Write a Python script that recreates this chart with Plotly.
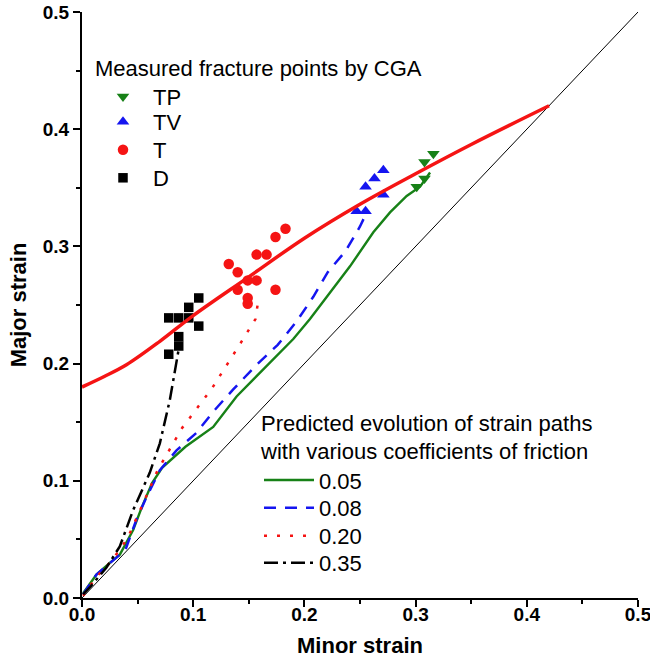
import plotly.graph_objects as go

# ---- data ----
flc_x = [0.0, 0.02, 0.04, 0.07, 0.10, 0.15, 0.20, 0.25, 0.30, 0.35, 0.42]
flc_y = [0.18, 0.189, 0.199, 0.219, 0.241, 0.274, 0.307, 0.336, 0.362, 0.387, 0.42]

diag_x = [0.0, 0.5]
diag_y = [0.0, 0.5]

tp_x = [0.316, 0.308, 0.308, 0.301]
tp_y = [0.379, 0.372, 0.358, 0.351]

tv_x = [0.247, 0.255, 0.255, 0.263, 0.271, 0.271]
tv_y = [0.330, 0.330, 0.351, 0.358, 0.365, 0.344]

t_x = [0.132, 0.140, 0.140, 0.149, 0.157, 0.149, 0.149, 0.157, 0.166, 0.174, 0.174, 0.183]
t_y = [0.285, 0.278, 0.263, 0.271, 0.271, 0.256, 0.251, 0.293, 0.293, 0.263, 0.308, 0.315]

d_x = [0.078, 0.087, 0.096, 0.096, 0.105, 0.105, 0.087, 0.087, 0.078]
d_y = [0.239, 0.239, 0.248, 0.239, 0.256, 0.232, 0.223, 0.215, 0.208]

p005_x = [0.001, 0.013, 0.025, 0.034, 0.046, 0.054, 0.063, 0.072, 0.093, 0.118, 0.139, 0.157,
          0.175, 0.190, 0.205, 0.223, 0.241, 0.262, 0.277, 0.292, 0.304, 0.313]
p005_y = [0.004, 0.020, 0.030, 0.037, 0.058, 0.078, 0.098, 0.111, 0.129, 0.146, 0.172, 0.189,
          0.206, 0.221, 0.238, 0.261, 0.283, 0.312, 0.329, 0.343, 0.351, 0.363]

p008_x = [0.001, 0.013, 0.034, 0.039, 0.049, 0.058, 0.070, 0.085, 0.103, 0.118, 0.136, 0.157,
          0.176, 0.193, 0.208, 0.221, 0.237, 0.250, 0.254]
p008_y = [0.003, 0.020, 0.037, 0.041, 0.067, 0.086, 0.109, 0.126, 0.141, 0.159, 0.178, 0.199,
          0.216, 0.236, 0.257, 0.278, 0.296, 0.317, 0.325]

p020_x = [0.001, 0.013, 0.027, 0.041, 0.057, 0.068, 0.090, 0.117, 0.141, 0.156, 0.159]
p020_y = [0.002, 0.018, 0.032, 0.051, 0.085, 0.109, 0.145, 0.179, 0.215, 0.238, 0.257]

p035_x = [0.001, 0.007, 0.022, 0.034, 0.046, 0.061, 0.070, 0.079, 0.088]
p035_y = [0.003, 0.009, 0.026, 0.044, 0.075, 0.107, 0.132, 0.169, 0.218]

x_ticks = [0.0, 0.1, 0.2, 0.3, 0.4, 0.5]
y_ticks = [0.0, 0.1, 0.2, 0.3, 0.4, 0.5]
tick_text = ["0.0", "0.1", "0.2", "0.3", "0.4", "0.5"]

FONT = "Arial, Liberation Sans, sans-serif"
LFS = 22  # legend font size

fig = go.Figure()

# measured points (one legend per item, so spacing can follow the reference)
fig.add_trace(go.Scatter(x=tp_x, y=tp_y, mode="markers", name="TP",
                         marker=dict(symbol="triangle-down", size=11, color="#178117"),
                         legend="legend"))
fig.add_trace(go.Scatter(x=tv_x, y=tv_y, mode="markers", name="TV",
                         marker=dict(symbol="triangle-up", size=11, color="#1515f0"),
                         legend="legend3"))
fig.add_trace(go.Scatter(x=t_x, y=t_y, mode="markers", name="T",
                         marker=dict(symbol="circle", size=10.5, color="#f51414"),
                         legend="legend4"))
fig.add_trace(go.Scatter(x=d_x, y=d_y, mode="markers", name="D",
                         marker=dict(symbol="square", size=9.5, color="#000000"),
                         legend="legend5"))

# diagonal and FLC
fig.add_trace(go.Scatter(x=diag_x, y=diag_y, mode="lines", showlegend=False,
                         line=dict(color="#000000", width=1)))
fig.add_trace(go.Scatter(x=flc_x, y=flc_y, mode="lines", showlegend=False,
                         line=dict(color="#f51414", width=3.5, shape="spline")))

# predicted strain paths
fig.add_trace(go.Scatter(x=p005_x, y=p005_y, mode="lines", name="0.05",
                         line=dict(color="#178117", width=2.4), legend="legend2"))
fig.add_trace(go.Scatter(x=p008_x, y=p008_y, mode="lines", name="0.08",
                         line=dict(color="#1515f0", width=2.5, dash="12px,9px"), legend="legend6"))
fig.add_trace(go.Scatter(x=p020_x, y=p020_y, mode="lines", name="0.20",
                         line=dict(color="#f51414", width=2.5, dash="3px,10px"), legend="legend7"))
fig.add_trace(go.Scatter(x=p035_x, y=p035_y, mode="lines", name="0.35",
                         line=dict(color="#000000", width=2.5, dash="14px,5px,3px,5px"),
                         legend="legend8"))

axis_common = dict(
    range=[0, 0.5], showgrid=False, zeroline=False, showline=True, automargin=False,
    linecolor="#000000", linewidth=2, ticks="outside", ticklen=7, tickwidth=2,
    tickcolor="#000000", tickfont=dict(family=FONT, size=19, color="#000000", weight="bold"),
    minor=dict(ticks="outside", ticklen=4, tickwidth=2, tickcolor="#000000", dtick=0.05),
    ticklabeloverflow="allow",
)


def py(pix):
    return (598 - pix) / 586.0


def px(pix):
    return (pix - 82) / 556.0


def leg(x, y, yanchor, title=None, itemwidth=30):
    d = dict(x=x, y=y, xanchor="left", yanchor=yanchor, bgcolor="rgba(0,0,0,0)",
             font=dict(family=FONT, size=LFS, color="#000000"), itemwidth=itemwidth,
             tracegroupgap=0)
    if title:
        d["title"] = dict(text=title, font=dict(family=FONT, size=LFS, color="#000000"))
    return d


top_x = px(93)
low_x = px(259)

fig.update_layout(
    width=650, height=658,
    margin=dict(l=82, r=12, t=12, b=60),
    paper_bgcolor="white", plot_bgcolor="white",
    font=dict(family=FONT, color="#000000"),
    xaxis=dict(axis_common, tickvals=x_ticks, ticktext=tick_text, ticklabelstandoff=-9,
               title=dict(text="<b>Minor strain</b>", font=dict(family=FONT, size=22), standoff=16)),
    yaxis=dict(axis_common, tickvals=y_ticks, ticktext=tick_text,
               title=dict(text="<b>Major strain</b>", font=dict(family=FONT, size=22), standoff=10)),
    legend=leg(top_x, py(47), "top", "Measured fracture points by CGA", 50),
    legend3=leg(top_x, py(122), "middle", None, 50),
    legend4=leg(top_x, py(150), "middle", None, 50),
    legend5=leg(top_x, py(178), "middle", None, 50),
    legend2=leg(low_x, py(402), "top",
                "Predicted evolution of strain paths<br>with various coefficients of friction", 50),
    legend6=leg(low_x, py(508), "middle", None, 50),
    legend7=leg(low_x, py(536), "middle", None, 50),
    legend8=leg(low_x, py(563), "middle", None, 50),
)

fig.write_html("out.html")
